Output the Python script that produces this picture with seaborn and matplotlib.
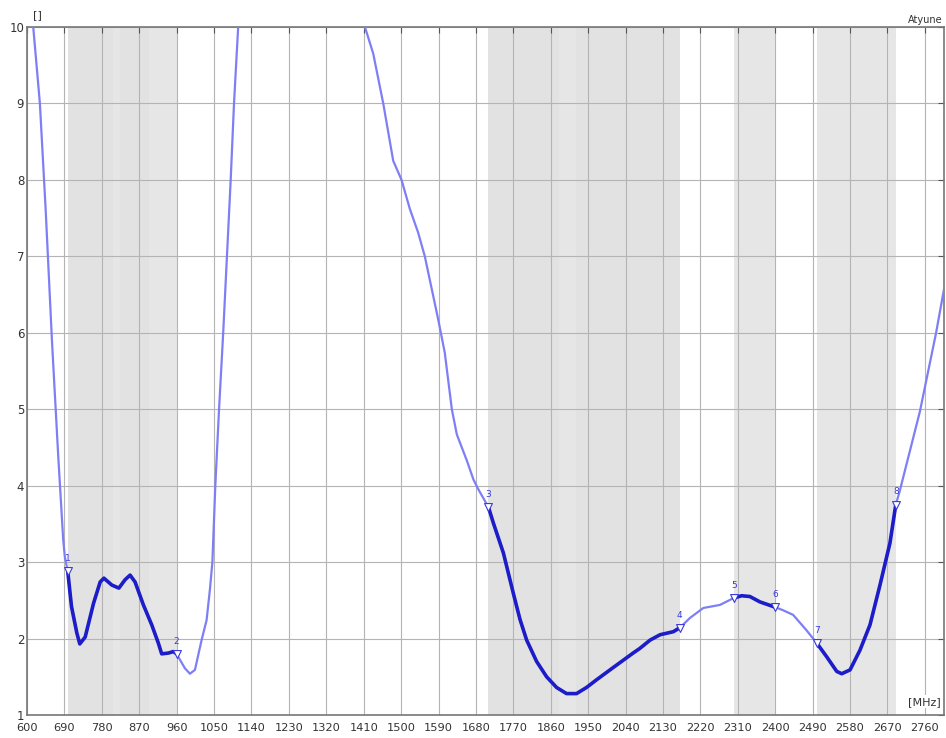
import numpy as np
import pandas as pd
import seaborn as sns
import matplotlib.pyplot as plt

# mesure VSWR de l'antenne
freqs = [615, 631, 645, 660, 675, 687, 691, 698, 707, 720, 727, 740, 760, 776, 785,
         804, 821, 836, 848, 860, 880, 900, 916, 924, 940, 952, 960, 964, 980, 992,
         1004, 1020, 1032, 1040, 1046, 1053, 1062, 1072, 1081, 1090, 1098, 1108,
         1413, 1433, 1457, 1481, 1501, 1521, 1541, 1557, 1589, 1605, 1622, 1634,
         1658, 1674, 1686, 1710, 1722, 1746, 1770, 1786, 1802, 1826, 1850, 1874,
         1898, 1922, 1946, 1970, 2010, 2058, 2074, 2099, 2123, 2155, 2170, 2195,
         2227, 2267, 2300, 2319, 2339, 2363, 2400, 2419, 2443, 2475, 2500, 2524,
         2548, 2560, 2580, 2604, 2628, 2652, 2676, 2690, 2700, 2748, 2787, 2808]
vswr = [10.0, 9.0, 7.6, 5.9, 4.4, 3.3, 3.07, 2.88, 2.42, 2.07, 1.93, 2.02, 2.46, 2.74, 2.79,
        2.70, 2.66, 2.77, 2.83, 2.74, 2.44, 2.18, 1.94, 1.80, 1.81, 1.83, 1.80, 1.76, 1.61, 1.54,
        1.59, 1.98, 2.24, 2.64, 3.0, 4.0, 5.0, 6.0, 7.0, 8.0, 9.0, 10.0,
        10.0, 9.65, 9.0, 8.25, 8.0, 7.62, 7.31, 7.0, 6.18, 5.74, 5.0, 4.67,
        4.33, 4.08, 3.95, 3.72, 3.51, 3.12, 2.59, 2.25, 1.98, 1.70, 1.50, 1.36,
        1.28, 1.28, 1.36, 1.46, 1.62, 1.81, 1.87, 1.98, 2.05, 2.09, 2.14, 2.27,
        2.40, 2.44, 2.53, 2.56, 2.55, 2.48, 2.41, 2.37, 2.31, 2.11, 1.94, 1.76,
        1.57, 1.54, 1.59, 1.85, 2.18, 2.70, 3.25, 3.75, 3.94, 4.97, 6.0, 6.63]

# bandes (MHz)
bandes_actives = [(698, 960), (1710, 2170), (2300, 2400), (2500, 2690)]
sous_bandes = [(698, 806), (824, 894), (1710, 1880), (1920, 2170)]

marqueurs_freq = [698, 960, 1710, 2170, 2300, 2400, 2500, 2690]
marqueurs_nom = ["1", "2", "3", "4", "5", "6", "7", "8"]

xticks = list(range(600, 2761, 90))
yticks = list(range(1, 11))

data = pd.DataFrame({"freq": freqs, "vswr": vswr})

sns.set_style("white")
plt.rcParams['font.family'] = ['DejaVu Sans']

fig = plt.figure(figsize=(9.46, 7.38), dpi=100)
ax = fig.add_axes([27/946, 23/738, 917/946, 688/738])

for lo, hi in bandes_actives:
    ax.axvspan(lo, hi, color="#e6e6e6", lw=0, zorder=0)
for lo, hi in sous_bandes:
    ax.axvspan(lo, hi, color="#d0d0d0", alpha=0.18, lw=0, zorder=0)

# courbe fine (hors bande)
light = "#7e7ef5"
sns.lineplot(data=data[data.freq <= 1108], x="freq", y="vswr", ax=ax, color=light,
             lw=1.6, sort=True, zorder=3)
sns.lineplot(data=data[data.freq >= 1413], x="freq", y="vswr", ax=ax, color=light,
             lw=1.6, sort=True, zorder=3)
# courbe epaisse dans les bandes
for lo, hi in bandes_actives:
    seg = data[(data.freq >= lo) & (data.freq <= hi)]
    sns.lineplot(data=seg, x="freq", y="vswr", ax=ax, color="#1c1cc8", lw=2.6,
                 sort=True, zorder=4)

# marqueurs
mk = data[data.freq.isin(marqueurs_freq)].sort_values("freq")
ax.scatter(mk.freq, mk.vswr, marker="v", s=32, facecolors="white",
           edgecolors="#3a3ae0", linewidths=0.8, zorder=5)
for (_, r), nom in zip(mk.iterrows(), marqueurs_nom):
    ax.annotate(nom, (r.freq, r.vswr), xytext=(0, 6), textcoords="offset points",
                ha="center", va="bottom", fontsize=6.5, color="#3a3ae0", zorder=6)

ax.set_xlim(600, 2806)
ax.set_ylim(1, 10)
ax.set_xticks(xticks)
ax.set_yticks(yticks)
ax.grid(True, color="#b4b4b4", lw=0.8)
ax.set_axisbelow(True)
ax.tick_params(direction="in", length=4, width=0.8, color="#555555",
               labelsize=8.5, labelcolor="#333333", pad=2,
               top=True, right=True)
ax.tick_params(axis="x", pad=6, labelsize=8.2)
ax.set_xlabel("")
ax.set_ylabel("")
for s in ax.spines.values():
    s.set_color("#777777")
    s.set_linewidth(1.2)

fig.text(33/946, 1 - 15/738, "[]", fontsize=8, color="#333333", ha="left", va="center")
fig.text(943/946, 1 - 20/738, "Atyune", fontsize=7, color="#333333", ha="right", va="center")
ax.text(0.997, 0.012, "[MHz]", transform=ax.transAxes, fontsize=8, color="#333333",
        ha="right", va="bottom", bbox=dict(facecolor="white", edgecolor="none", pad=1))

plt.savefig("out.png", dpi=100)
